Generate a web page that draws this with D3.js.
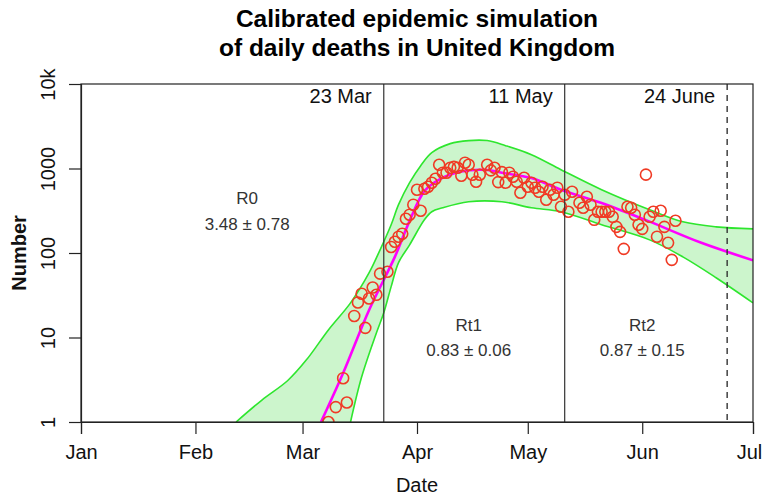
<!DOCTYPE html>
<html>
<head>
<meta charset="utf-8">
<script src="https://cdn.jsdelivr.net/npm/d3@7"></script>
<style>
  body { margin: 0; background: #fff; }
  svg { display: block; font-family: "Liberation Sans", Arial, sans-serif; }
</style>
</head>
<body>
<script>
var obsDates = ["2020-03-08","2020-03-10","2020-03-12","2020-03-13","2020-03-15","2020-03-16","2020-03-17","2020-03-18","2020-03-19","2020-03-20",
  "2020-03-21","2020-03-22","2020-03-24","2020-03-25","2020-03-26","2020-03-27","2020-03-28","2020-03-29","2020-03-30","2020-03-31",
  "2020-04-01","2020-04-02","2020-04-03","2020-04-04","2020-04-05","2020-04-06","2020-04-07","2020-04-08","2020-04-09","2020-04-10",
  "2020-04-11","2020-04-12","2020-04-13","2020-04-14","2020-04-15","2020-04-16","2020-04-17","2020-04-18","2020-04-20","2020-04-21",
  "2020-04-22","2020-04-23","2020-04-24","2020-04-25","2020-04-26","2020-04-27","2020-04-28","2020-04-29","2020-04-30","2020-05-01",
  "2020-05-02","2020-05-03","2020-05-04","2020-05-05","2020-05-06","2020-05-07","2020-05-08","2020-05-09","2020-05-10","2020-05-11",
  "2020-05-12","2020-05-13","2020-05-15","2020-05-16","2020-05-17","2020-05-18","2020-05-19","2020-05-20","2020-05-21","2020-05-22",
  "2020-05-23","2020-05-24","2020-05-25","2020-05-26","2020-05-27","2020-05-28","2020-05-29","2020-05-30","2020-05-31","2020-06-01",
  "2020-06-02","2020-06-03","2020-06-04","2020-06-05","2020-06-06","2020-06-07","2020-06-08","2020-06-09","2020-06-10"];
var obsDeaths = [1, 1.5, 3.3, 1.7, 18, 26, 33, 13, 29, 39,
  32, 57, 60, 118, 136, 156, 169, 254, 284, 373,
  561, 316, 576, 609, 679, 757, 1109, 892, 892, 1021,
  1050, 1021, 822, 1172, 1109, 845, 698, 845, 1109, 950,
  1021, 690, 905, 679, 892, 800, 698, 517, 778, 609,
  679, 593, 531, 609, 427, 561, 489, 593, 353, 489,
  308, 531, 393, 343, 463, 373, 247, 308, 308, 308,
  308, 268, 204, 178, 112, 353, 343, 284, 216, 193,
  846, 268, 308, 156, 316, 204, 132, 83, 241];

// calibrated simulation (median)
var fitDates = ["2020-03-06","2020-03-12","2020-03-19","2020-03-26","2020-03-30","2020-04-03","2020-04-07","2020-04-13",
  "2020-04-20","2020-04-24","2020-05-02","2020-05-10","2020-05-21","2020-06-03","2020-06-17","2020-07-01"];
var fitValues = [1, 3.8, 21, 90, 240, 540, 740, 920, 960, 890, 770, 560, 390, 235, 132, 82];

// uncertainty band
var upperDates = ["2020-02-12","2020-02-19","2020-02-26","2020-03-02","2020-03-08","2020-03-14","2020-03-19","2020-03-22",
  "2020-03-25","2020-03-27","2020-03-30","2020-04-02","2020-04-05","2020-04-10","2020-04-15","2020-04-20","2020-04-25",
  "2020-05-02","2020-05-10","2020-05-21","2020-06-03","2020-06-12","2020-06-21","2020-07-01"];
var upperValues = [1, 1.82, 3.1, 5.4, 12.3, 25.7, 58, 109, 216, 373, 679, 1080, 1540, 1970, 2140, 2140, 1862,
  1457, 968, 561, 325, 234, 204, 193];
var lowerDates = ["2020-03-14","2020-03-17","2020-03-21","2020-03-23","2020-03-25","2020-03-27","2020-03-30","2020-04-03",
  "2020-04-05","2020-04-08","2020-04-15","2020-04-24","2020-05-02","2020-05-10","2020-05-21","2020-06-03","2020-06-12",
  "2020-06-21","2020-07-01"];
var lowerValues = [1, 3.4, 11.3, 19.6, 40, 77, 125, 247, 308, 343, 404, 404, 343, 308, 216, 143, 90, 51, 25.7];

var changeDates = ["2020-03-23", "2020-05-11"];
var changeLabels = ["23 Mar", "11 May"];
var forecastDate = "2020-06-24";
var forecastLabel = "24 June";

var monthTicks = ["2020-01-01","2020-02-01","2020-03-01","2020-04-01","2020-05-01","2020-06-01","2020-07-01"];
var yTicks = [1, 10, 100, 1000, 10000];
var yTickLabels = ["1", "10", "100", "1000", "10k"];

var rNames = ["R0", "Rt1", "Rt2"];
var rValues = ["3.48 \u00b1 0.78", "0.83 \u00b1 0.06", "0.87 \u00b1 0.15"];
var rLabelDates = ["2020-02-15", "2020-04-15", "2020-06-01"];
var rLabelLevels = [[380, 188], [12, 6], [12, 6]];

var W = 763, H = 498;
var margin = {top: 84, right: 10, bottom: 76, left: 81};
var width = W - margin.left - margin.right;
var height = H - margin.top - margin.bottom;

var parse = d3.timeParse("%Y-%m-%d");

var x = d3.scaleTime()
  .domain([parse("2020-01-01"), parse("2020-07-01")])
  .range([0, width]);
var y = d3.scaleLog()
  .domain([1, 10000])
  .range([height, 0]);

var svg = d3.select("body").append("svg")
  .attr("width", W)
  .attr("height", H);

svg.append("defs").append("clipPath")
  .attr("id", "plotclip")
  .append("rect")
  .attr("width", width)
  .attr("height", height);

var g = svg.append("g")
  .attr("transform", "translate(" + margin.left + "," + margin.top + ")");

var plot = g.append("g").attr("clip-path", "url(#plotclip)");

function pts(dates, vals) {
  return dates.map(function(d, i) { return [parse(d), vals[i]]; });
}
var upper = pts(upperDates, upperValues);
var lower = pts(lowerDates, lowerValues);
var fit = pts(fitDates, fitValues);

var line = d3.line()
  .x(function(d) { return x(d[0]); })
  .y(function(d) { return y(d[1]); })
  .curve(d3.curveCatmullRom.alpha(0.5));

// band polygon
var bandPath = line(upper) + "L" + line(lower.slice().reverse()).slice(1) + "Z";
plot.append("path")
  .attr("d", bandPath)
  .attr("fill", "#ccf5cc")
  .attr("stroke", "none");

plot.append("path").attr("d", line(upper))
  .attr("fill", "none").attr("stroke", "#2ee62e").attr("stroke-width", 1.6);
plot.append("path").attr("d", line(lower))
  .attr("fill", "none").attr("stroke", "#2ee62e").attr("stroke-width", 1.6);

// change points
changeDates.forEach(function(d, i) {
  g.append("line")
    .attr("x1", x(parse(d))).attr("x2", x(parse(d)))
    .attr("y1", 0).attr("y2", height)
    .attr("stroke", "#333").attr("stroke-width", 1.2);
  g.append("text")
    .attr("x", x(parse(d)) - 12)
    .attr("y", 19)
    .attr("text-anchor", "end")
    .attr("font-size", 20)
    .attr("fill", "#111")
    .text(changeLabels[i]);
});
g.append("line")
  .attr("x1", x(parse(forecastDate))).attr("x2", x(parse(forecastDate)))
  .attr("y1", 0).attr("y2", height)
  .attr("stroke", "#333").attr("stroke-width", 1.4)
  .attr("stroke-dasharray", "6,5");
g.append("text")
  .attr("x", x(parse(forecastDate)) - 12)
  .attr("y", 19)
  .attr("text-anchor", "end")
  .attr("font-size", 20)
  .attr("fill", "#111")
  .text(forecastLabel);

// fitted curve
plot.append("path").attr("d", line(fit))
  .attr("fill", "none").attr("stroke", "#ff00ff").attr("stroke-width", 2.6);

// observations
plot.append("g").selectAll("circle")
  .data(pts(obsDates, obsDeaths))
  .enter().append("circle")
  .attr("cx", function(d) { return x(d[0]); })
  .attr("cy", function(d) { return y(d[1]); })
  .attr("r", 5.5)
  .attr("fill", "none")
  .attr("stroke", "#f03a24")
  .attr("stroke-width", 1.6);

// R annotations
rNames.forEach(function(n, i) {
  var cx = x(parse(rLabelDates[i]));
  g.append("text").attr("x", cx).attr("y", y(rLabelLevels[i][0]))
    .attr("text-anchor", "middle").attr("font-size", 17).attr("fill", "#333")
    .text(n);
  g.append("text").attr("x", cx).attr("y", y(rLabelLevels[i][1]))
    .attr("text-anchor", "middle").attr("font-size", 17).attr("fill", "#333")
    .text(rValues[i]);
});

// frame
g.append("rect")
  .attr("width", width).attr("height", height)
  .attr("fill", "none").attr("stroke", "#222").attr("stroke-width", 1.2);

// axes
var xAxis = g.append("g")
  .attr("transform", "translate(0," + height + ")")
  .call(d3.axisBottom(x)
    .tickValues(monthTicks.map(parse))
    .tickFormat(d3.timeFormat("%b"))
    .tickSize(12).tickPadding(11));
xAxis.selectAll("text").attr("font-size", 20).attr("fill", "#111").attr("font-family", null);
// keep the last label inside the window
xAxis.selectAll(".tick:last-of-type text").attr("x", -4);

var yAxis = g.append("g")
  .call(d3.axisLeft(y)
    .tickValues(yTicks)
    .tickFormat(function(d, i) { return yTickLabels[i]; })
    .tickSize(12));
yAxis.selectAll("text")
  .attr("x", null).attr("dy", "0.36em")
  .attr("transform", "translate(-33,0) rotate(-90)")
  .attr("text-anchor", "middle")
  .attr("font-size", 20).attr("fill", "#111").attr("font-family", null);

g.selectAll(".domain").attr("stroke", "#222").attr("stroke-width", 1.2);
g.selectAll(".tick line").attr("stroke", "#222").attr("stroke-width", 1.2);

// titles
svg.append("text")
  .attr("x", margin.left + width / 2).attr("y", 27)
  .attr("text-anchor", "middle").attr("font-size", 24.5).attr("font-weight", "bold")
  .text("Calibrated epidemic simulation");
svg.append("text")
  .attr("x", margin.left + width / 2).attr("y", 56)
  .attr("text-anchor", "middle").attr("font-size", 24.5).attr("font-weight", "bold")
  .text("of daily deaths in United Kingdom");

svg.append("text")
  .attr("x", margin.left + width / 2).attr("y", 492)
  .attr("text-anchor", "middle").attr("font-size", 20).attr("fill", "#111")
  .text("Date");

svg.append("text")
  .attr("transform", "translate(26," + (margin.top + height / 2) + ") rotate(-90)")
  .attr("text-anchor", "middle").attr("font-size", 20).attr("font-weight", "bold")
  .attr("fill", "#111")
  .text("Number");
</script>
</body>
</html>
